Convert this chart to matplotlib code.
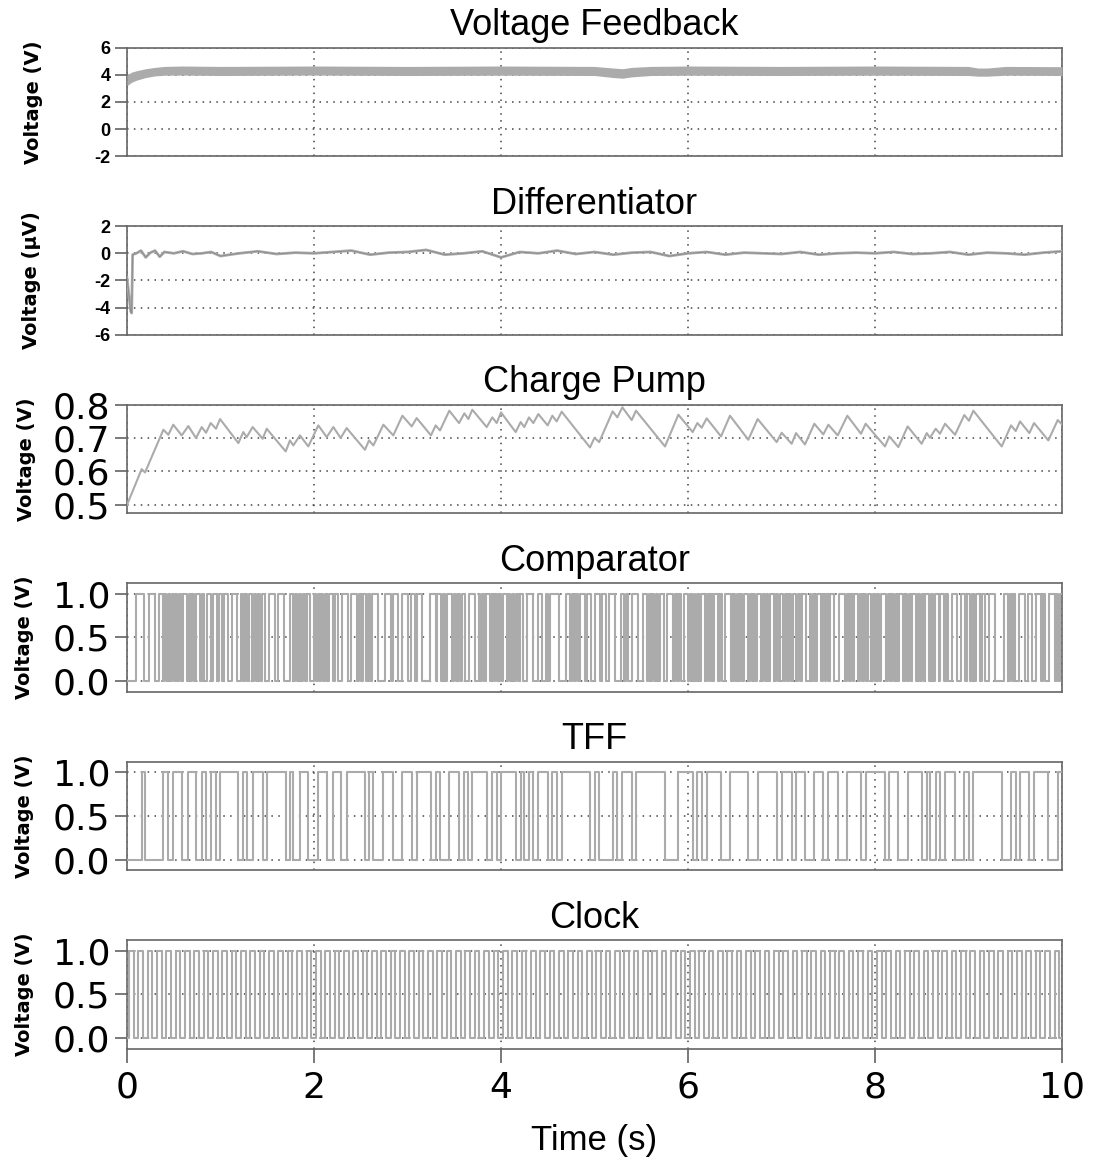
import matplotlib
matplotlib.use("Agg")
import matplotlib.pyplot as plt
import numpy as np

plt.rcParams["font.family"] = ["DejaVu Sans"]

# ---- data ----
# Voltage feedback: envelope of the thick noisy trace (V)
vf_t = [0.0, 0.05, 0.1, 0.2, 0.3, 0.4, 0.6, 1.0, 2.0, 3.0, 4.0, 5.0, 5.2, 5.3, 5.4, 5.6, 6.0, 7.0, 8.0, 9.0, 9.1, 9.2, 9.4, 10.0]
vf_lo = [3.2, 3.45, 3.6, 3.8, 3.92, 3.97, 3.98, 3.95, 3.98, 3.95, 3.97, 3.95, 3.8, 3.75, 3.85, 3.95, 3.97, 3.95, 3.97, 3.95, 3.9, 3.9, 3.97, 3.95]
vf_hi = [4.0, 4.2, 4.3, 4.45, 4.55, 4.62, 4.65, 4.62, 4.65, 4.62, 4.65, 4.62, 4.5, 4.45, 4.55, 4.62, 4.65, 4.62, 4.65, 4.62, 4.5, 4.5, 4.62, 4.6]

# Differentiator output (uV)
diff_t = [0.0, 0.04, 0.05, 0.06, 0.1, 0.15, 0.2, 0.25, 0.3, 0.35, 0.4, 0.5, 0.6, 0.7, 0.8, 0.9, 1.0,
          1.2, 1.4, 1.6, 1.8, 2.0, 2.2, 2.4, 2.6, 2.8, 3.0, 3.2, 3.4, 3.6, 3.8, 4.0, 4.2, 4.4, 4.6,
          4.8, 5.0, 5.2, 5.4, 5.6, 5.8, 6.0, 6.2, 6.4, 6.6, 6.8, 7.0, 7.2, 7.4, 7.6, 7.8, 8.0, 8.2,
          8.4, 8.6, 8.8, 9.0, 9.2, 9.4, 9.6, 9.8, 10.0]
diff_v = [-1.8, -4.3, -4.4, -0.1, 0.0, 0.2, -0.3, 0.05, 0.2, -0.25, 0.1, 0.0, 0.15, -0.05, 0.0, 0.1, -0.2,
          0.0, 0.15, -0.05, 0.05, 0.0, 0.1, 0.2, -0.1, 0.05, 0.1, 0.25, -0.1, 0.0, 0.15, -0.3, 0.1, 0.0, 0.2,
          -0.05, 0.1, -0.1, 0.05, 0.1, -0.2, 0.0, 0.1, -0.1, 0.05, 0.0, -0.05, 0.1, -0.1, 0.0, 0.05, 0.0, 0.1,
          -0.05, 0.0, 0.1, -0.1, 0.05, 0.0, -0.1, 0.05, 0.15]

# Charge pump vertices (s, V)
pump_t = [0.0, 0.157, 0.193, 0.389, 0.442, 0.495, 0.585, 0.656, 0.738, 0.799, 0.845, 0.895, 0.952, 0.995,
          1.191, 1.244, 1.280, 1.344, 1.451, 1.494, 1.697, 1.743, 1.779, 1.850, 1.939, 2.046, 2.136, 2.207,
          2.285, 2.349, 2.545, 2.588, 2.635, 2.742, 2.848, 2.945, 3.045, 3.098, 3.251, 3.301, 3.348, 3.447,
          3.551, 3.608, 3.651, 3.693, 3.847, 3.907, 3.954, 4.000, 4.157, 4.210, 4.249, 4.299, 4.346, 4.399,
          4.499, 4.549, 4.595, 4.649, 4.952, 5.000, 5.050, 5.194, 5.244, 5.298, 5.398, 5.444, 5.754, 5.897,
          6.050, 6.100, 6.146, 6.200, 6.353, 6.449, 6.645, 6.745, 6.948, 7.002, 7.109, 7.155, 7.251, 7.351,
          7.447, 7.501, 7.601, 7.704, 7.850, 7.900, 8.107, 8.153, 8.250, 8.349, 8.499, 8.553, 8.588, 8.649,
          8.695, 8.749, 8.856, 8.955, 9.005, 9.052, 9.355, 9.455, 9.505, 9.551, 9.651, 9.701, 9.854, 9.954, 10.0]
pump_v = [0.500, 0.607, 0.597, 0.725, 0.710, 0.740, 0.708, 0.736, 0.700, 0.733, 0.716, 0.745, 0.728, 0.757,
          0.685, 0.718, 0.703, 0.733, 0.698, 0.728, 0.660, 0.693, 0.678, 0.708, 0.675, 0.738, 0.703, 0.733,
          0.700, 0.730, 0.665, 0.693, 0.678, 0.740, 0.708, 0.767, 0.735, 0.760, 0.708, 0.738, 0.723, 0.782,
          0.745, 0.774, 0.757, 0.785, 0.733, 0.762, 0.745, 0.777, 0.718, 0.748, 0.733, 0.762, 0.745, 0.772,
          0.738, 0.767, 0.750, 0.779, 0.672, 0.701, 0.688, 0.780, 0.762, 0.792, 0.754, 0.782, 0.675, 0.770,
          0.718, 0.745, 0.731, 0.759, 0.705, 0.767, 0.695, 0.757, 0.688, 0.716, 0.683, 0.715, 0.681, 0.743,
          0.711, 0.740, 0.708, 0.767, 0.713, 0.743, 0.675, 0.705, 0.673, 0.735, 0.683, 0.715, 0.701, 0.728,
          0.713, 0.743, 0.710, 0.769, 0.752, 0.782, 0.675, 0.738, 0.721, 0.750, 0.715, 0.745, 0.693, 0.754, 0.741]

# Comparator output, one character per 20 ms slot, one row per second
comp_step = 0.02
comp_bits = [
    "00000111100011100110101010101011010101101001101101",
    "10110011100101011010101100111001110001101010101100",
    "10101010110110011100111010110101110000111011100111",
    "00110111000011101101011101010110011100101011010101",
    "01101010101100111000110010111110000110101011101100",
    "11101100111000110100111000110101010110011101010011",
    "01010101101010110100111010101011010101101010110101",
    "10101011010110010101101010110001110101011010101101",
    "01011101010101101010110101011010110110100111001101",
    "10101101100111000001101010011100110011101001110101",
]

# TFF toggles at each charge-pump turning point (pump falls while TFF is high)
tff_edges = pump_t[1:-1]

# Clock
clock_period = 0.1
clock_cycles = 100
clock_high = 0.05

titles = ["Voltage Feedback", "Differentiator", "Charge Pump", "Comparator", "TFF", "Clock"]
ylabels = ["Voltage (V)", "Voltage (\u00b5V)", "Voltage (V)", "Voltage (V)", "Voltage (V)", "Voltage (V)"]
ylims = [(-2, 6), (-6, 2), (0.475, 0.8), (-0.12, 1.12), (-0.12, 1.12), (-0.12, 1.12)]
yticks = [[-2, 0, 2, 4, 6], [-6, -4, -2, 0, 2], [0.5, 0.6, 0.7, 0.8], [0.0, 0.5, 1.0], [0.0, 0.5, 1.0], [0.0, 0.5, 1.0]]
xticks = [0, 2, 4, 6, 8, 10]
label_x = [-0.09, -0.092, -0.097, -0.1, -0.1, -0.1]

TRACE = "#ababab"


def step_xy(edges, start_state, t0, t1):
    xs = [t0]
    ys = [start_state]
    s = start_state
    for e in edges:
        xs += [e, e]
        ys += [s, 1 - s]
        s = 1 - s
    xs.append(t1)
    ys.append(s)
    return xs, ys


W, H = 1093, 1164
fig = plt.figure(figsize=(W / 100, H / 100), dpi=100)

left, right = 127, 1062
axes = []
for i in range(6):
    top = 47.7 + 178.5 * i
    h = 108.5
    ax = fig.add_axes([left / W, 1 - (top + h) / H, (right - left) / W, h / H])
    axes.append(ax)

for i, ax in enumerate(axes):
    ax.set_xlim(0, 10)
    ax.set_ylim(*ylims[i])
    ax.set_xticks(xticks)
    ax.set_yticks(yticks[i])
    ax.grid(True, linestyle=(0, (1, 3.5)), color="#444444", linewidth=1.1)
    ax.set_axisbelow(True)
    for sp in ax.spines.values():
        sp.set_color("#666666")
        sp.set_linewidth(1.2)
    ax.set_title(titles[i], fontsize=26, family="Liberation Sans", pad=9)
    ax.tick_params(axis="y", direction="out", length=9, width=1.1, color="#555555", pad=3)
    if i < 5:
        ax.tick_params(axis="x", length=0, labelbottom=False)
    else:
        ax.tick_params(axis="x", direction="out", length=10, width=1.1, color="#555555",
                       labelsize=26, pad=6)
    if i < 2:
        ax.set_yticklabels([str(v) for v in yticks[i]], fontsize=13, fontweight="bold",
                           family="Liberation Sans")
    else:
        ax.set_yticklabels([f"{v:.1f}" for v in yticks[i]], fontsize=26)
    ax.set_ylabel(ylabels[i], fontsize=14, fontweight="bold")
    ax.yaxis.set_label_coords(label_x[i], 0.5)

# Voltage feedback
axes[0].fill_between(vf_t, vf_lo, vf_hi, color=TRACE, linewidth=0, zorder=3)

# Differentiator: grey trace with a darker thin core
axes[1].plot(diff_t, diff_v, color=TRACE, linewidth=2.0, zorder=3)
axes[1].plot(diff_t, diff_v, color="#8a8a8a", linewidth=0.6, zorder=4)

# Charge pump
axes[2].plot(pump_t, pump_v, color=TRACE, linewidth=1.5, zorder=3)

# Comparator
bits = "".join(comp_bits)
cx, cy = [0.0], [int(bits[0])]
for k in range(1, len(bits)):
    if bits[k] != bits[k - 1]:
        cx += [k * comp_step, k * comp_step]
        cy += [int(bits[k - 1]), int(bits[k])]
cx.append(10.0)
cy.append(int(bits[-1]))
axes[3].plot(cx, cy, color=TRACE, linewidth=1.5, zorder=3)

# TFF
tx, ty = step_xy(tff_edges, 0, 0.0, 10.0)
axes[4].plot(tx, ty, color=TRACE, linewidth=1.5, zorder=3)

# Clock
clk_edges = []
for k in range(clock_cycles):
    clk_edges += [k * clock_period + 0.02, k * clock_period + 0.02 + clock_high]
kx, ky = step_xy(clk_edges, 0, 0.0, 10.0)
axes[5].plot(kx, ky, color=TRACE, linewidth=1.5, zorder=3)

axes[5].set_xlabel("Time (s)", fontsize=25, family="Liberation Sans", labelpad=14)

fig.savefig("out.png", dpi=100)
